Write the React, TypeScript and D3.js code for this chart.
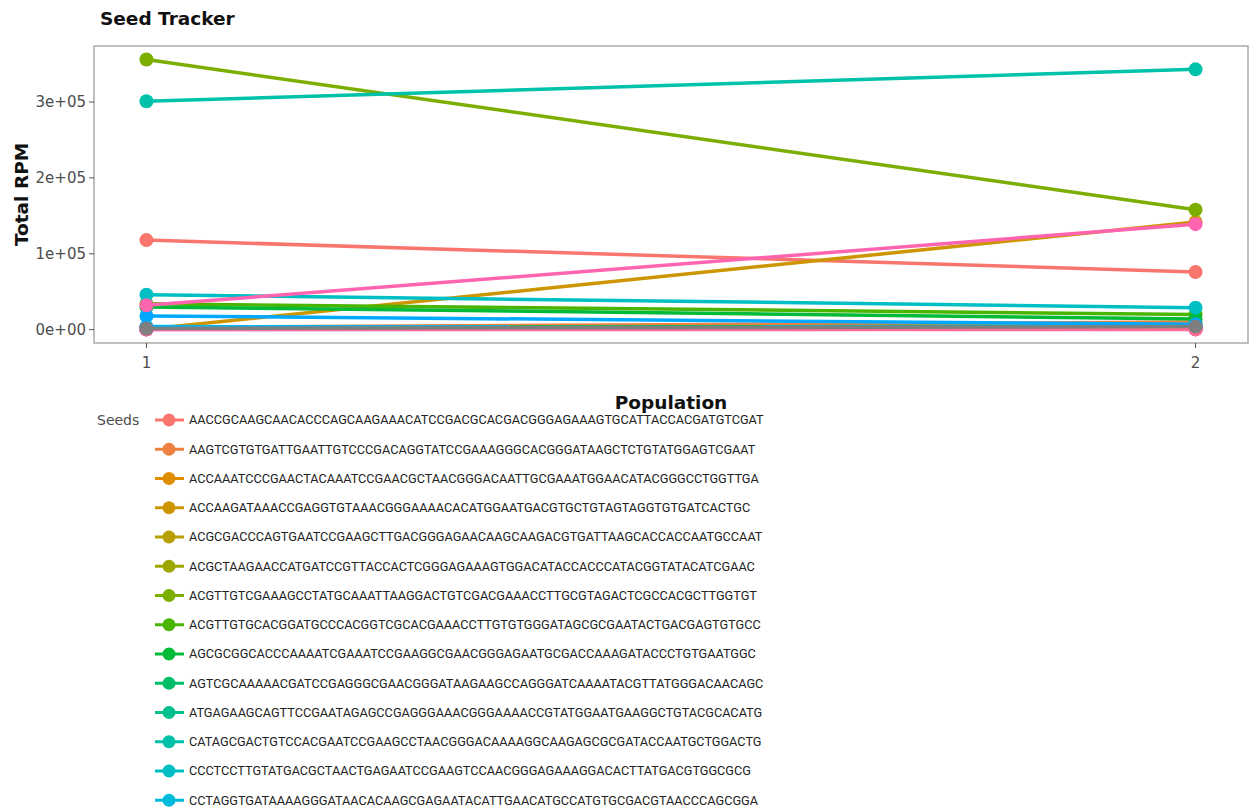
import * as d3 from "d3";
import { useRef, useEffect } from "react";

// seed sequences (legend order); the source image only shows the first 14
const seeds = [
  "AACCGCAAGCAACACCCAGCAAGAAACATCCGACGCACGACGGGAGAAAGTGCATTACCACGATGTCGAT",
  "AAGTCGTGTGATTGAATTGTCCCGACAGGTATCCGAAAGGGCACGGGATAAGCTCTGTATGGAGTCGAAT",
  "ACCAAATCCCGAACTACAAATCCGAACGCTAACGGGACAATTGCGAAATGGAACATACGGGCCTGGTTGA",
  "ACCAAGATAAACCGAGGTGTAAACGGGAAAACACATGGAATGACGTGCTGTAGTAGGTGTGATCACTGC",
  "ACGCGACCCAGTGAATCCGAAGCTTGACGGGAGAACAAGCAAGACGTGATTAAGCACCACCAATGCCAAT",
  "ACGCTAAGAACCATGATCCGTTACCACTCGGGAGAAAGTGGACATACCACCCATACGGTATACATCGAAC",
  "ACGTTGTCGAAAGCCTATGCAAATTAAGGACTGTCGACGAAACCTTGCGTAGACTCGCCACGCTTGGTGT",
  "ACGTTGTGCACGGATGCCCACGGTCGCACGAAACCTTGTGTGGGATAGCGCGAATACTGACGAGTGTGCC",
  "AGCGCGGCACCCAAAATCGAAATCCGAAGGCGAACGGGAGAATGCGACCAAAGATACCCTGTGAATGGC",
  "AGTCGCAAAAACGATCCGAGGGCGAACGGGATAAGAAGCCAGGGATCAAAATACGTTATGGGACAACAGC",
  "ATGAGAAGCAGTTCCGAATAGAGCCGAGGGAAACGGGAAAACCGTATGGAATGAAGGCTGTACGCACATG",
  "CATAGCGACTGTCCACGAATCCGAAGCCTAACGGGACAAAAGGCAAGAGCGCGATACCAATGCTGGACTG",
  "CCCTCCTTGTATGACGCTAACTGAGAATCCGAAGTCCAACGGGAGAAAGGACACTTATGACGTGGCGCG",
  "CCTAGGTGATAAAAGGGATAACACAAGCGAGAATACATTGAACATGCCATGTGCGACGTAACCCAGCGGA",
  "", "", "", "", "", "", "", "", "", "",
];

const populations = [1, 2];

// Total RPM per seed, population 1 and 2
const rpmPop1 = [
  118000, 3000, 800, 500, 1500, 600, 356000, 34000, 30000, 2500, 1200, 301000,
  46000, 1000, 4000, 18000, 900, 700, 300, 600, 500, 200, 32000, 400,
];
const rpmPop2 = [
  76000, 10000, 1500, 142000, 2500, 800, 158000, 20000, 14000, 5000, 1800,
  343000, 29000, 1500, 3000, 7000, 1200, 900, 500, 800, 700, 300, 139000, 600,
];
// seeds without a label (drawn grey)
const naRpm = [1500, 4000];

const yTicks = [0, 100000, 200000, 300000];
const yTickLabels = ["0e+00", "1e+05", "2e+05", "3e+05"];

// ggplot-style hue palette (polarLUV, l=65, c=100)
const hcl2hex = (h: number, c = 100, l = 65) => {
  const hr = (h * Math.PI) / 180;
  const U = c * Math.cos(hr);
  const V = c * Math.sin(hr);
  const Xn = 95.047, Yn = 100, Zn = 108.883;
  const den = Xn + 15 * Yn + 3 * Zn;
  const un = (4 * Xn) / den;
  const vn = (9 * Yn) / den;
  const Y = Yn * Math.pow((l + 16) / 116, 3);
  const u = U / (13 * l) + un;
  const v = V / (13 * l) + vn;
  const X = (9 * Y * u) / (4 * v);
  const Z = (Y * (12 - 3 * u - 20 * v)) / (4 * v);
  const x = X / 100, y = Y / 100, z = Z / 100;
  const lin = [
    3.240479 * x - 1.53715 * y - 0.498535 * z,
    -0.969256 * x + 1.875992 * y + 0.041556 * z,
    0.055648 * x - 0.204043 * y + 1.057311 * z,
  ];
  const g = lin.map((t) => {
    const s = t <= 0.0031308 ? 12.92 * t : 1.055 * Math.pow(t, 1 / 2.4) - 0.055;
    return Math.round(Math.max(0, Math.min(1, s)) * 255);
  });
  return d3.rgb(g[0], g[1], g[2]).formatHex();
};

const App = () => {
  const container = useRef<SVGSVGElement>(null);

  useEffect(() => {
    const svg = d3.select(container.current);
    svg.selectAll("*").remove();

    const n = rpmPop1.length;
    const colors = d3.range(n).map((i) => hcl2hex(15 + (i * 360) / n));

    const series = d3.range(n).map((i) => ({
      color: colors[i],
      values: [rpmPop1[i], rpmPop2[i]],
    }));
    series.push({ color: "#7f7f7f", values: naRpm });

    const panel = { l: 94, r: 1248, t: 46, b: 343 };

    const allVals = series.flatMap((s) => s.values);
    const yMin = d3.min(allVals)!;
    const yMax = d3.max(allVals)!;
    const yPad = (yMax - yMin) * 0.05;
    const yScale = d3
      .scaleLinear()
      .domain([yMin - yPad, yMax + yPad])
      .range([panel.b, panel.t]);
    const xScale = d3
      .scaleLinear()
      .domain([1 - 0.05, 2 + 0.05])
      .range([panel.l, panel.r]);

    // panel border
    svg
      .append("rect")
      .attr("x", panel.l)
      .attr("y", panel.t)
      .attr("width", panel.r - panel.l)
      .attr("height", panel.b - panel.t)
      .attr("fill", "white")
      .attr("stroke", "#ababab")
      .attr("stroke-width", 1.5);

    // axes
    const yaxisg = svg.append("g");
    yaxisg
      .selectAll("line")
      .data(yTicks)
      .join("line")
      .attr("x1", panel.l - 5)
      .attr("x2", panel.l)
      .attr("y1", (d) => yScale(d))
      .attr("y2", (d) => yScale(d))
      .attr("stroke", "#555")
      .attr("stroke-width", 1);
    yaxisg
      .selectAll("text")
      .data(yTicks)
      .join("text")
      .attr("x", panel.l - 8)
      .attr("y", (d) => yScale(d))
      .attr("dy", "0.35em")
      .attr("text-anchor", "end")
      .attr("font-family", "DejaVu Sans")
      .attr("font-size", 15)
      .attr("fill", "#4d4d4d")
      .text((d, i) => yTickLabels[i]);

    const xaxisg = svg.append("g");
    xaxisg
      .selectAll("line")
      .data(populations)
      .join("line")
      .attr("x1", (d) => xScale(d))
      .attr("x2", (d) => xScale(d))
      .attr("y1", panel.b)
      .attr("y2", panel.b + 5)
      .attr("stroke", "#555")
      .attr("stroke-width", 1);
    xaxisg
      .selectAll("text")
      .data(populations)
      .join("text")
      .attr("x", (d) => xScale(d))
      .attr("y", panel.b + 25)
      .attr("text-anchor", "middle")
      .attr("font-family", "DejaVu Sans")
      .attr("font-size", 15)
      .attr("fill", "#4d4d4d")
      .text((d) => d);

    // lines + points
    const lineGen = d3
      .line<number>()
      .x((d, i) => xScale(populations[i]))
      .y((d) => yScale(d));

    const seriesg = svg.append("g");
    series.forEach((s) => {
      const g = seriesg.append("g");
      g.append("path")
        .attr("d", lineGen(s.values))
        .attr("fill", "none")
        .attr("stroke", s.color)
        .attr("stroke-width", 3.5);
      g.selectAll("circle")
        .data(s.values)
        .join("circle")
        .attr("cx", (d, i) => xScale(populations[i]))
        .attr("cy", (d) => yScale(d))
        .attr("r", 7)
        .attr("fill", s.color);
    });

    // titles
    svg
      .append("text")
      .attr("x", 100)
      .attr("y", 25)
      .attr("font-family", "DejaVu Sans")
      .attr("font-weight", "bold")
      .attr("font-size", 18.5)
      .attr("fill", "#111")
      .text("Seed Tracker");

    svg
      .append("text")
      .attr("x", (panel.l + panel.r) / 2)
      .attr("y", 409)
      .attr("text-anchor", "middle")
      .attr("font-family", "DejaVu Sans")
      .attr("font-weight", "bold")
      .attr("font-size", 18.5)
      .attr("fill", "#111")
      .text("Population");

    svg
      .append("text")
      .attr(
        "transform",
        `translate(28,${(panel.t + panel.b) / 2})rotate(-90)`
      )
      .attr("text-anchor", "middle")
      .attr("font-family", "DejaVu Sans")
      .attr("font-weight", "bold")
      .attr("font-size", 18.5)
      .attr("fill", "#111")
      .text("Total RPM");

    // legend
    const legendg = svg.append("g").attr("transform", "translate(0,420)");
    legendg
      .append("text")
      .attr("x", 97)
      .attr("y", 0)
      .attr("dy", "0.35em")
      .attr("font-family", "DejaVu Sans")
      .attr("font-size", 14)
      .attr("fill", "#4d4d4d")
      .text("Seeds");

    const items = seeds
      .map((name, i) => ({ name, color: colors[i] }))
      .filter((d) => d.name !== "");
    const rowH = 29.25;

    const rows = legendg
      .selectAll(".legend-row")
      .data(items)
      .join("g")
      .attr("class", "legend-row")
      .attr("transform", (d, i) => `translate(0,${i * rowH})`);
    rows
      .append("line")
      .attr("x1", 155)
      .attr("x2", 184)
      .attr("y1", 0)
      .attr("y2", 0)
      .attr("stroke", (d) => d.color)
      .attr("stroke-width", 3);
    rows
      .append("circle")
      .attr("cx", 169)
      .attr("cy", 0)
      .attr("r", 6.5)
      .attr("fill", (d) => d.color);
    rows
      .append("text")
      .attr("x", 189)
      .attr("y", 0)
      .attr("dy", "0.35em")
      .attr("font-family", "Roboto")
      .attr("font-size", 12.7)
      .attr("fill", "#222")
      .text((d) => d.name);
  }, []);

  return (
    <div style={{ position: "absolute", left: 0, top: 0, overflow: "hidden" }}>
      <svg ref={container} width={1250} height={812} style={{ display: "block" }} />
    </div>
  );
};

export default App;
